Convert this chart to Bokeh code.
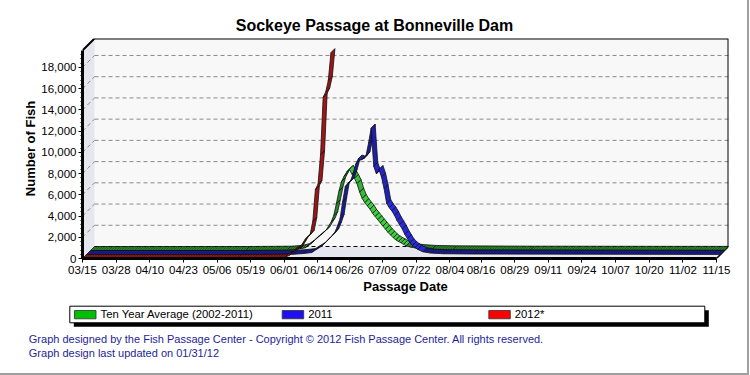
import math
import pandas as pd
from bokeh.plotting import figure
from bokeh.layouts import column
from bokeh.models import Range1d, FixedTicker, NumeralTickFormatter
from bokeh.embed import file_html
from bokeh.resources import INLINE
from bokeh.core.properties import value

FONT = "Liberation Sans"

# ---------------- data ----------------
title_text = "Sockeye Passage at Bonneville Dam"
x_title = "Passage Date"
y_title = "Number of Fish"
season_start = "2012/03/15"
tick_labels = ["03/15", "03/28", "04/10", "04/23", "05/06", "05/19", "06/01",
               "06/14", "06/26", "07/09", "07/22", "08/04", "08/16", "08/29",
               "09/11", "09/24", "10/07", "10/20", "11/02", "11/15"]
y_ticks = [0, 2000, 4000, 6000, 8000, 10000, 12000, 14000, 16000, 18000]
y_axis_top = 19600

# days after 03/15 and daily counts
avg_days = [0, 60, 76, 79, 81, 83, 85, 87, 89, 91, 93, 94, 95, 96, 97, 98, 99, 100,
            101, 102, 103, 104, 105, 106, 107, 108, 109, 110, 111, 112, 113, 114,
            115, 116, 117, 118, 119, 120, 121, 122, 124, 127, 132, 140, 170, 245]
avg_fish = [0, 0, 30, 80, 150, 260, 600, 1050, 1450, 1900, 2700, 3300, 4400, 5600,
            6500, 7000, 7400, 7650, 7200, 6800, 6300, 5500, 4900, 4500, 4200, 3900,
            3500, 3200, 2900, 2600, 2300, 2000, 1700, 1450, 1200, 1000, 850, 720,
            580, 430, 300, 180, 100, 60, 30, 10]

y2011_days = [0, 60, 80, 84, 87, 89, 91, 93, 95, 96, 97, 98, 99, 100, 101, 102, 103,
              104, 105, 106, 107, 108, 109, 110, 111, 112, 113, 114, 115, 116, 117,
              118, 119, 120, 121, 122, 123, 124, 125, 126, 127, 128, 130, 133, 138,
              150, 245]
y2011_fish = [0, 0, 20, 100, 180, 500, 800, 1300, 1800, 2100, 2700, 3400, 5000, 6400,
              6700, 6900, 7600, 8500, 9000, 8900, 9000, 9300, 10500, 11900, 8300,
              7600, 8000, 7300, 6200, 4800, 4400, 4100, 3700, 3200, 2800, 2400, 1900,
              1500, 1100, 850, 650, 480, 250, 130, 70, 40, 10]

y2012_days = [0, 60, 76, 78, 80, 81, 83, 84, 85, 86, 87, 88, 89, 90, 91, 92, 93, 94,
              95, 96]
y2012_fish = [0, 0, 20, 80, 300, 550, 850, 1000, 1400, 1800, 2000, 2300, 3500, 6500,
              7000, 9800, 15200, 15700, 16800, 19400]

series_names = ["Ten Year Average (2002-2011)", "2011", "2012*"]
legend_colors = ["#00c000", "#2010f0", "#ff0000"]
ribbon_colors = [(60, 210, 60), (42, 42, 232), (230, 32, 32)]
footer_lines = ["Graph designed by the Fish Passage Center - Copyright \u00a9 2012 "
                "Fish Passage Center. All rights reserved.",
                "Graph design last updated on 01/31/12"]

# ---------------- layout ----------------
W = 747
H0, H1, H2 = 38, 262, 73
LEFT, RIGHT, BOTTOM = 82, 19, 42
DEPTH = 12

start = pd.to_datetime(season_start, format="%Y/%m/%d")
tick_days = [int((pd.to_datetime("2012/" + t, format="%Y/%m/%d") - start).days)
             for t in tick_labels]
n_days = tick_days[-1]
frame_w = W - LEFT - RIGHT
frame_h = H1 - BOTTOM
x_end = n_days * frame_w / (frame_w - DEPTH)
y_end = y_axis_top * frame_h / (frame_h - DEPTH)
ddx = x_end / frame_w      # days per pixel
ddy = y_end / frame_h      # fish per pixel
Dx, Dy = DEPTH * ddx, DEPTH * ddy

# ---------------- title strip ----------------
p0 = figure(width=W, height=H0, x_range=Range1d(0, W), y_range=Range1d(H0, 0),
            x_axis_type=None, y_axis_type=None, output_backend="svg",
            toolbar_location=None, min_border=0, outline_line_color=None,
            frame_align=False)
p0.text(x=[374], y=[24.5], text=[title_text], text_font=value(FONT),
        text_font_size="16px", text_font_style="bold", text_align="center",
        text_baseline="alphabetic", text_color="black")

# ---------------- main plot ----------------
p1 = figure(width=W, height=H1, x_range=Range1d(0, x_end), y_range=Range1d(0, y_end),
            output_backend="svg", toolbar_location=None,
            min_border_left=LEFT, min_border_right=RIGHT, min_border_top=0,
            min_border_bottom=BOTTOM, outline_line_color=None,
            background_fill_color="white", border_fill_color="white",
            frame_align=False)
p1.xgrid.visible = False
p1.ygrid.visible = False

wall = "#e6e6ee"
# back wall
p1.quad(left=Dx, right=x_end, bottom=Dy, top=y_end, fill_color="#f8f8f8", line_color=None)
# floor
p1.patch([0, n_days, n_days + Dx, Dx], [0, 0, Dy, Dy], fill_color=wall, line_color=None)
# side wall
p1.patch([0, 0, Dx, Dx], [0, y_axis_top, y_end, Dy], fill_color=wall, line_color=None)
# grid on back wall and side wall
gl = [t for t in y_ticks if t > 0]
p1.segment(x0=Dx, x1=x_end, y0=[t + Dy for t in gl], y1=[t + Dy for t in gl],
           line_color="#8a8a8a", line_dash="4 3", line_width=1)
p1.segment(x0=0, x1=Dx, y0=gl, y1=[t + Dy for t in gl],
           line_color="#8a8a8a", line_dash="4 3", line_width=1)
p1.segment(x0=Dx, x1=x_end, y0=Dy, y1=Dy, line_color="black", line_dash="4 3", line_width=1)
# wall edges
p1.line([0, Dx, x_end, x_end], [y_axis_top, y_end, y_end, Dy], line_color="black", line_width=2)
p1.line([n_days, n_days + Dx], [0, Dy], line_color="black", line_width=1.5)


def ribbon(days, fish, d0, d1, rgb):
    xs_all, ys_all, cols = [], [], []
    hx0, hy0, hx1, hy1 = [], [], [], []
    for i in range(len(days) - 1):
        x0, x1, y0, y1 = days[i], days[i + 1], fish[i], fish[i + 1]
        xs_all.append([x0 + d0 * ddx, x1 + d0 * ddx, x1 + d1 * ddx, x0 + d1 * ddx])
        ys_all.append([y0 + d0 * ddy, y1 + d0 * ddy, y1 + d1 * ddy, y0 + d1 * ddy])
        dxp, dyp = (x1 - x0) / ddx, (y1 - y0) / ddy
        L = math.hypot(dxp, dyp)
        nx, ny = dyp / L, -dxp / L
        if nx + ny < 0:
            nx, ny = -nx, -ny
        f = max(0.0, (nx + ny) / math.sqrt(2)) ** 4
        b = 0.62 + 0.38 * f
        if abs(dyp) < 0.3 * dxp:
            b = 0.66
            # texture: one depth edge per day along the flat band
            for k in range(x0 + 1, x1):
                yk = y0 + (y1 - y0) * (k - x0) / (x1 - x0)
                hx0.append(k + d0 * ddx)
                hy0.append(yk + d0 * ddy)
                hx1.append(k + d1 * ddx)
                hy1.append(yk + d1 * ddy)
        cols.append("#%02x%02x%02x" % tuple(int(v * b) for v in rgb))
    p1.patches(xs_all, ys_all, fill_color=cols, line_color="#101010", line_width=0.8)
    p1.segment(x0=hx0, y0=hy0, x1=hx1, y1=hy1, line_color="#101010",
               line_width=0.8, line_alpha=0.55)


ribbon(avg_days, avg_fish, 8, 12, ribbon_colors[0])
ribbon(y2011_days, y2011_fish, 4, 8, ribbon_colors[1])
ribbon(y2012_days, y2012_fish, 0, 4, ribbon_colors[2])

# axes
xa = p1.xaxis[0]
xa.ticker = FixedTicker(ticks=tick_days, minor_ticks=[])
xa.major_label_overrides = {d: t for d, t in zip(tick_days, tick_labels)}
xa.bounds = (0, n_days)
xa.axis_line_width = 3
xa.major_tick_out = 4
xa.major_tick_in = 0
xa.major_label_standoff = 1
xa.major_label_text_font = FONT
xa.major_label_text_font_size = "11.5px"
xa.major_label_text_color = "black"
xa.axis_label = x_title
xa.axis_label_text_font = FONT
xa.axis_label_text_font_size = "13px"
xa.axis_label_text_font_style = "bold"
xa.axis_label_standoff = 0
xa.axis_label_text_color = "black"

ya = p1.yaxis[0]
ya.ticker = FixedTicker(ticks=y_ticks, minor_ticks=list(range(0, y_axis_top, 400)))
ya.formatter = NumeralTickFormatter(format="0,0")
ya.bounds = (0, y_axis_top)
ya.axis_line_width = 3
ya.major_tick_out = 4
ya.major_tick_in = 0
ya.minor_tick_out = 2
ya.minor_tick_in = 0
ya.major_label_standoff = 2
ya.major_label_text_font = FONT
ya.major_label_text_font_size = "11.5px"
ya.major_label_text_color = "black"
ya.axis_label = y_title
ya.axis_label_text_font = FONT
ya.axis_label_text_font_size = "13px"
ya.axis_label_text_font_style = "bold"
ya.axis_label_standoff = 0
ya.axis_label_text_color = "black"

# ---------------- legend and footer ----------------
p2 = figure(width=W, height=H2, x_range=Range1d(0, W), y_range=Range1d(H2, 0),
            x_axis_type=None, y_axis_type=None, output_backend="svg",
            toolbar_location=None, min_border=0, outline_line_color=None,
            frame_align=False)
p2.quad(left=73.3, right=708.3, top=9.7, bottom=26.3, fill_color="black", line_color=None)
p2.quad(left=69.3, right=704.3, top=5.7, bottom=22.3, fill_color="white",
        line_color="black", line_width=1)
col_x = [74, 281.7, 488.3]
p2.quad(left=col_x, right=[c + 21.5 for c in col_x], top=10, bottom=18.3,
        fill_color=legend_colors, line_color="#303030", line_width=0.8)
p2.text(x=[c + 26 for c in col_x], y=[13.5] * 3, text=series_names, text_font=value(FONT),
        text_font_size="11.3px", text_baseline="alphabetic", text_align="left",
        text_color="black")
p2.text(x=[28.3, 28.3], y=[38.5, 52.5], text=footer_lines, text_font=value(FONT),
        text_font_size="11px", text_baseline="alphabetic", text_align="left",
        text_color="#1e1e96")

layout = column(p0, p1, p2, styles={"border-right": "2px solid #a0a0a0",
                                     "border-bottom": "2px solid #a0a0a0"})

open("out.html", "w").write(file_html(layout, INLINE))
